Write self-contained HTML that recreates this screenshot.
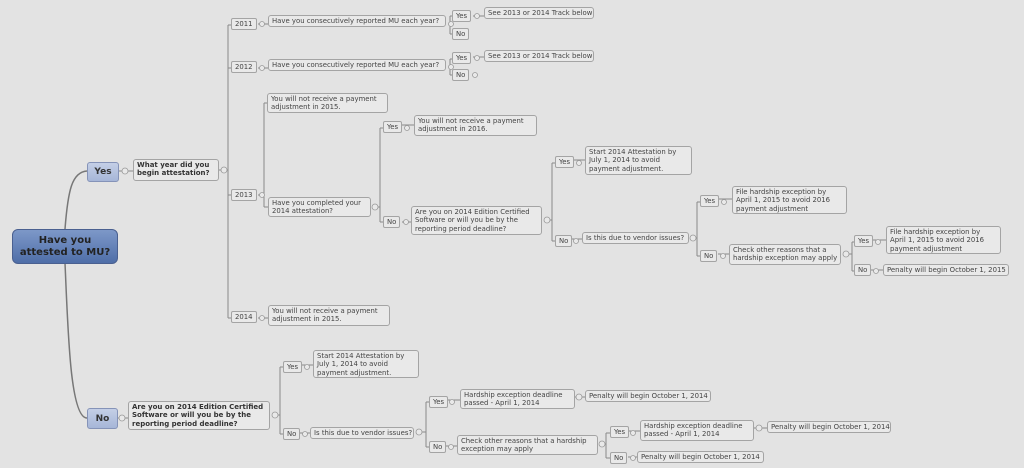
<!DOCTYPE html>
<html><head><meta charset="utf-8"><style>
body{margin:0;width:1024px;height:468px;background:#e3e3e3;position:relative;overflow:hidden;font-family:"DejaVu Sans","Liberation Sans",sans-serif;}
.b{position:absolute;box-sizing:border-box;border:1px solid #a4a4a4;border-radius:3px;background:#e9e9e9;color:#444;font-size:6.9px;line-height:8.4px;padding:1px 3px;white-space:nowrap;overflow:hidden;}
.s{border-radius:2px;padding:1px 3px;}
.bold{font-weight:bold;color:#333;font-size:7px;}
.blue{background:linear-gradient(#c4cfe6,#a6b6d8);border-color:#8593b8;text-align:center;font-weight:bold;color:#333;font-size:9px;}
.root{position:absolute;left:12px;top:229px;width:106px;height:35px;border-radius:6px;background:linear-gradient(#7d98c8,#4f6ea8);border:1px solid #4a6090;text-align:center;font-weight:bold;color:#222;font-size:10px;line-height:12px;box-sizing:border-box;padding-top:5px;font-family:"DejaVu Sans",sans-serif;}
svg{position:absolute;left:0;top:0;}
</style></head><body>
<svg width="1024" height="468" fill="none" stroke="#8a8a8a" stroke-width="1">
<path d="M65 229 C68 190 72 172 87 171" stroke="#777" stroke-width="1.5"/>
<path d="M65 263 C68 330 70 418 87 418" stroke="#777" stroke-width="1.5"/>
<line x1="228" y1="25" x2="228" y2="318"/>
<path d="M228 25h3M228 68h3M228 195h3M228 318h3M219 170h9"/>
<path d="M258 24h10M258 68h10M258 195h6M258 318h10"/>
<line x1="450" y1="16" x2="450" y2="34"/><path d="M450 16h2M450 34h2M450 59h2M450 75h2"/>
<line x1="450" y1="59" x2="450" y2="75"/>
<path d="M473 16h11M473 57h11"/>
<line x1="264" y1="103" x2="264" y2="207"/><path d="M264 103h3M264 207h4"/>
<line x1="380" y1="128" x2="380" y2="222"/><path d="M374 207h6M380 128h3M380 222h3M402 125h12M402 222h9"/>
<line x1="552" y1="163" x2="552" y2="241"/><path d="M546 220h6M552 163h3M552 241h3M574 160h11M571 239h11"/>
<line x1="697" y1="202" x2="697" y2="256"/><path d="M692 238h5M697 202h3M697 256h3M719 199h13M718 254h11"/>
<line x1="852" y1="242" x2="852" y2="271"/><path d="M845 254h7M852 242h2M852 271h2M873 240h13M871 270h12"/>
<path d="M119 171h14M117 418h11"/>
<line x1="280" y1="367" x2="280" y2="434"/><path d="M274 415h6M280 367h3M280 434h3M302 365h11M300 433h10"/>
<line x1="426" y1="402" x2="426" y2="447"/><path d="M418 432h8M426 402h3M426 447h3M447 400h13M446 446h11M575 397h10"/>
<line x1="606" y1="433" x2="606" y2="458"/><path d="M601 444h5M606 433h4M606 458h4M628 431h12M628 457h9M754 428h13"/>
</svg>
<svg width="1024" height="468" fill="#e9e9e9" stroke="#999" stroke-width="0.8">
<circle cx="224" cy="170" r="3"/><circle cx="262" cy="24" r="2.5"/><circle cx="262" cy="68" r="2.5"/><circle cx="262" cy="195" r="2.5"/><circle cx="262" cy="318" r="2.5"/>
<circle cx="451" cy="24" r="2.5"/><circle cx="451" cy="67" r="2.5"/><circle cx="477" cy="16" r="2.5"/><circle cx="477" cy="58" r="2.5"/><circle cx="475" cy="75" r="2.5"/>
<circle cx="375" cy="207" r="3"/><circle cx="407" cy="128" r="2.5"/><circle cx="406" cy="222" r="2.5"/>
<circle cx="547" cy="220" r="3"/><circle cx="579" cy="163" r="2.5"/><circle cx="576" cy="241" r="2.5"/>
<circle cx="693" cy="238" r="3"/><circle cx="724" cy="202" r="2.5"/><circle cx="723" cy="256" r="2.5"/>
<circle cx="846" cy="254" r="3"/><circle cx="878" cy="242" r="2.5"/><circle cx="876" cy="271" r="2.5"/>
<circle cx="125" cy="171" r="3"/><circle cx="122" cy="418" r="3"/>
<circle cx="275" cy="415" r="3"/><circle cx="307" cy="367" r="2.5"/><circle cx="305" cy="434" r="2.5"/>
<circle cx="419" cy="432" r="3"/><circle cx="452" cy="402" r="2.5"/><circle cx="451" cy="447" r="2.5"/>
<circle cx="579" cy="397" r="3"/><circle cx="602" cy="444" r="3"/><circle cx="633" cy="433" r="2.5"/><circle cx="633" cy="458" r="2.5"/><circle cx="759" cy="428" r="3"/>
</svg>

<div class="root">Have you<br>attested to MU?</div>
<div class="b blue" style="left:87px;top:162px;width:32px;height:20px;line-height:17px;">Yes</div>
<div class="b blue" style="left:87px;top:408px;width:31px;height:21px;line-height:18px;">No</div>
<div class="b bold" style="left:133px;top:159px;width:86px;height:22px;">What year did you<br>begin attestation?</div>

<div class="b s" style="left:231px;top:18px;">2011</div>
<div class="b" style="left:268px;top:15px;width:178px;">Have you consecutively reported MU each year?</div>
<div class="b s" style="left:452px;top:10px;">Yes</div>
<div class="b" style="left:484px;top:7px;width:110px;">See 2013 or 2014 Track below</div>
<div class="b s" style="left:452px;top:28px;">No</div>

<div class="b s" style="left:231px;top:61px;">2012</div>
<div class="b" style="left:268px;top:59px;width:178px;">Have you consecutively reported MU each year?</div>
<div class="b s" style="left:452px;top:52px;">Yes</div>
<div class="b" style="left:484px;top:50px;width:110px;">See 2013 or 2014 Track below</div>
<div class="b s" style="left:452px;top:69px;">No</div>

<div class="b" style="left:267px;top:93px;width:121px;height:20px;">You will not receive a payment<br>adjustment in 2015.</div>
<div class="b s" style="left:231px;top:189px;">2013</div>
<div class="b" style="left:268px;top:197px;width:103px;height:20px;">Have you completed your<br>2014 attestation?</div>
<div class="b s" style="left:383px;top:121px;">Yes</div>
<div class="b" style="left:414px;top:115px;width:123px;height:21px;">You will not receive a payment<br>adjustment in 2016.</div>
<div class="b s" style="left:383px;top:216px;">No</div>
<div class="b" style="left:411px;top:206px;width:131px;height:29px;">Are you on 2014 Edition Certified<br>Software or will you be by the<br>reporting period deadline?</div>
<div class="b s" style="left:555px;top:156px;">Yes</div>
<div class="b" style="left:585px;top:146px;width:107px;height:29px;">Start 2014 Attestation by<br>July 1, 2014 to avoid<br>payment adjustment.</div>
<div class="b s" style="left:555px;top:235px;">No</div>
<div class="b" style="left:582px;top:232px;width:107px;">Is this due to vendor issues?</div>
<div class="b s" style="left:700px;top:195px;">Yes</div>
<div class="b" style="left:732px;top:186px;width:115px;height:28px;">File hardship exception by<br>April 1, 2015 to avoid 2016<br>payment adjustment</div>
<div class="b s" style="left:700px;top:250px;">No</div>
<div class="b" style="left:729px;top:244px;width:112px;height:21px;">Check other reasons that a<br>hardship exception may apply</div>
<div class="b s" style="left:854px;top:235px;">Yes</div>
<div class="b" style="left:886px;top:226px;width:115px;height:28px;">File hardship exception by<br>April 1, 2015 to avoid 2016<br>payment adjustment</div>
<div class="b s" style="left:854px;top:264px;">No</div>
<div class="b" style="left:883px;top:264px;width:126px;">Penalty will begin October 1, 2015</div>

<div class="b s" style="left:231px;top:311px;">2014</div>
<div class="b" style="left:268px;top:305px;width:122px;height:21px;">You will not receive a payment<br>adjustment in 2015.</div>

<div class="b bold" style="left:128px;top:401px;width:142px;height:29px;">Are you on 2014 Edition Certified<br>Software or will you be by the<br>reporting period deadline?</div>
<div class="b s" style="left:283px;top:361px;">Yes</div>
<div class="b" style="left:313px;top:350px;width:106px;height:28px;">Start 2014 Attestation by<br>July 1, 2014 to avoid<br>payment adjustment.</div>
<div class="b s" style="left:283px;top:428px;">No</div>
<div class="b" style="left:310px;top:427px;width:104px;">Is this due to vendor issues?</div>
<div class="b s" style="left:429px;top:396px;">Yes</div>
<div class="b" style="left:460px;top:389px;width:115px;height:20px;">Hardship exception deadline<br>passed - April 1, 2014</div>
<div class="b" style="left:585px;top:390px;width:126px;">Penalty will begin October 1, 2014</div>
<div class="b s" style="left:429px;top:441px;">No</div>
<div class="b" style="left:457px;top:435px;width:141px;height:20px;">Check other reasons that a hardship<br>exception may apply</div>
<div class="b s" style="left:610px;top:426px;">Yes</div>
<div class="b" style="left:640px;top:420px;width:114px;height:21px;">Hardship exception deadline<br>passed - April 1, 2014</div>
<div class="b" style="left:767px;top:421px;width:124px;">Penalty will begin October 1, 2014</div>
<div class="b s" style="left:610px;top:452px;">No</div>
<div class="b" style="left:637px;top:451px;width:127px;">Penalty will begin October 1, 2014</div>
</body></html>
